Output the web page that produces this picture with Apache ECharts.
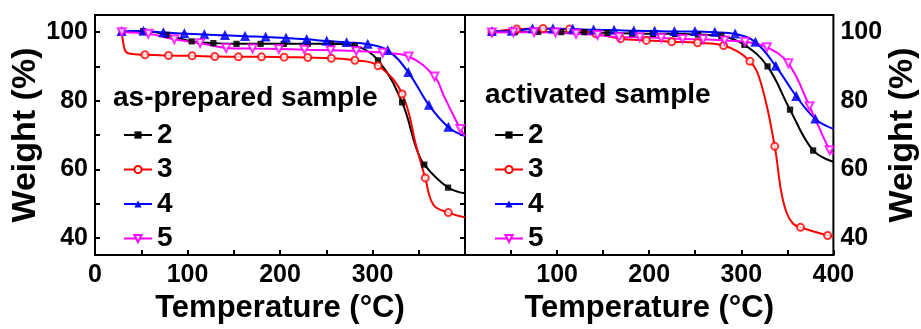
<!DOCTYPE html>
<html>
<head>
<meta charset="utf-8">
<script src="https://cdn.jsdelivr.net/npm/echarts@6/dist/echarts.min.js"></script>
<style>html,body{margin:0;padding:0;background:#fff}#c{width:921px;height:329px}</style>
</head>
<body>
<div id="c"></div>
<script>
// ---------- data ----------
const seriesNames = ['2', '3', '4', '5'];
const xLabelsLeft = [0, 100, 200, 300];
const xLabelsRight = [100, 200, 300, 400];
const xTicks = [0, 50, 100, 150, 200, 250, 300, 350, 400];
const yLabels = [40, 60, 80, 100];
const yTicks = [40, 50, 60, 70, 80, 90, 100];
const panelTitles = ['as-prepared sample', 'activated sample'];

// as-prepared sample: marker points [temperature, weight]
const prep2 = [[29,100],[52,100.3],[77.5,99.2],[104.5,97.3],[128,96.8],[153,96.6],[179,96.6],[204,96.6],[230,96.6],[255,96.6],[281,96.0],[306,91.8],[332,79.5],[356,61.4],[381.7,54.7]];
const prep2Curve = [[347,66.5],[400,53.0]];
const prep3 = [[54,93.4],[79.5,93.2],[105,93.1],[129.5,92.9],[155,92.8],[180,92.8],[204.5,92.7],[230,92.6],[255.5,92.4],[281,91.8],[306,90.2],[332,82.0],[357,57.5],[382,47.4]];
const prep3Curve = [[29,100],[30.5,97],[33,94.4],[38,93.7],[348,66],[366,49.6],[400,46.0]];
const prep4 = [[28.8,100.2],[52.3,100.3],[73.9,99.9],[96.6,99.6],[118.2,99.3],[140.5,99.1],[162.2,98.8],[184.5,98.6],[206.5,98.3],[228.8,97.9],[250.5,97.4],[272,97.0],[294.8,96.5],[316.4,94.7],[338.7,88.3],[361,78.7],[382,72.3]];
const prep4Curve = [[400,69.7]];
const prep5 = [[29,100],[57.7,99.5],[85.8,97.9],[113.6,96.8],[141.8,95.4],[170.3,95.2],[198.8,95.1],[226.5,94.9],[254.7,94.7],[282.5,94.5],[311,94.0],[339,92.9],[367,87.1],[395,71.8]];
const prep5Curve = [[377,81.5],[387,76],[400,69.7]];

// activated sample
const act2 = [[29.2,100],[54.3,100.1],[79.4,100.1],[104.5,100],[129.6,100],[154.7,99.8],[181.5,99.6],[204,99.5],[228,99.5],[253,99.3],[278.3,98.9],[303.4,96.3],[328.5,90.0],[352.9,77.4],[378,65.5]];
const act2Curve = [[400,62.2]];
const act3 = [[29.2,100],[56.1,100.9],[84.7,101.1],[113.4,100.9],[142.1,99.5],[169,98.1],[197,97.6],[224.5,97.2],[252.5,96.9],[280.8,96.1],[309.4,91.5],[336.3,66.7],[364.3,43.1],[393.8,40.7]];
const act3Curve = [[322,84.5],[343,54],[349,47.5],[356,44.2],[400,40.4]];
const act4 = [[29.2,100.2],[50.7,100.3],[73.3,101],[95.5,101],[117,100.9],[139.6,100.7],[161.8,100.6],[183.3,100.4],[205.9,100.3],[227.4,100.2],[249.7,100.2],[271.2,100],[293.3,99.5],[315.3,97.1],[337.4,90.1],[359.7,81.3],[380.4,74.7]];
const act4Curve = [[400,71.8]];
const act5 = [[29.2,99.9],[52.5,100],[75,100],[98.4,99.9],[120.6,99.5],[143.9,99.2],[167.2,98.6],[189.8,98.5],[213.1,98.3],[236.3,98.0],[258.6,97.9],[281.9,97.6],[304.1,97.2],[327.7,95.6],[351.1,90.9],[374,78.4],[395.9,65.6]];
const act5Curve = [[400,64.6]];

// ---------- styling ----------
const FONT = "'Liberation Sans', Arial, sans-serif";
const styles = [
  {color: '#000000', symbol: 'rect', size: 5, rotate: 0},
  {color: '#ff0000', symbol: 'emptyCircle', size: 7, rotate: 0},
  {color: '#0000ff', symbol: 'triangle', size: 8, rotate: 0},
  {color: '#ff00ff', symbol: 'emptyTriangle', size: 8, rotate: 180}
];
const panels = [
  {markers: [prep2, prep3, prep4, prep5], curves: [prep2Curve, prep3Curve, prep4Curve, prep5Curve]},
  {markers: [act2, act3, act4, act5], curves: [act2Curve, act3Curve, act4Curve, act5Curve]}
];

function merged(a, b) { return a.concat(b).sort((p, q) => p[0] - q[0]); }

const series = [];
panels.forEach((pn, pi) => {
  pn.markers.forEach((m, si) => {
    const st = styles[si];
    series.push({
      type: 'line', name: seriesNames[si], xAxisIndex: pi, yAxisIndex: pi,
      data: merged(m, pn.curves[si]), smooth: 0.4, showSymbol: false,
      symbol: st.symbol, symbolSize: st.size, symbolRotate: st.rotate,
      lineStyle: {color: st.color, width: 2}, itemStyle: {color: st.color, borderWidth: 1.5},
      z: 2, animation: false
    });
  });
});
panels.forEach((pn, pi) => {
  pn.markers.forEach((m, si) => {
    const st = styles[si];
    series.push({
      type: 'scatter', name: 'm' + pi + si, xAxisIndex: pi, yAxisIndex: pi,
      data: m, symbol: st.symbol, symbolSize: st.size, symbolRotate: st.rotate,
      itemStyle: {color: st.color, borderColor: st.color, borderWidth: 1.3},
      z: 3, animation: false
    });
  });
});

const axisLabelStyle = {fontFamily: FONT, fontWeight: 'bold', fontSize: 25, color: '#000'};
const xNameStyle = {fontFamily: FONT, fontWeight: 'bold', fontSize: 31, color: '#000'};
const yNameStyle = {fontFamily: FONT, fontWeight: 'bold', fontSize: 34, color: '#000'};

function xAxis(gi, labels) {
  return {
    type: 'value', gridIndex: gi, min: 0, max: 400,
    axisLine: {lineStyle: {color: '#000', width: 2}},
    axisTick: {inside: true, length: 5, lineStyle: {color: '#000', width: 2}, customValues: xTicks},
    axisLabel: Object.assign({margin: 8, customValues: labels}, axisLabelStyle),
    splitLine: {show: false},
    name: 'Temperature (\u00B0C)', nameLocation: 'middle', nameGap: 29, nameTextStyle: xNameStyle
  };
}
function yAxis(gi, pos) {
  return {
    type: 'value', gridIndex: gi, min: 35, max: 105, position: pos,
    axisLine: {show: true, lineStyle: {color: '#000', width: 2}},
    axisTick: {show: true, inside: true, length: 5, lineStyle: {color: '#000', width: 2}, customValues: yTicks},
    axisLabel: Object.assign({margin: 7, customValues: yLabels}, axisLabelStyle),
    splitLine: {show: false},
    name: 'Weight (%)', nameLocation: 'middle', nameRotate: 90, nameGap: 52, nameTextStyle: yNameStyle
  };
}

const legendCommon = {
  orient: 'vertical', top: 116, itemWidth: 28, itemHeight: 9, itemGap: 6.5,
  textStyle: {fontFamily: FONT, fontWeight: 'bold', fontSize: 28, lineHeight: 28, color: '#000'},
  data: seriesNames, selectedMode: false, symbolRotate: 'inherit'
};

const option = {
  backgroundColor: '#fff',
  animation: false,
  title: [
    {text: panelTitles[0], left: 113, top: 84, textStyle: {fontFamily: FONT, fontWeight: 'bold', fontSize: 28, color: '#000'}, padding: 0},
    {text: panelTitles[1], left: 485, top: 81, textStyle: {fontFamily: FONT, fontWeight: 'bold', fontSize: 28, color: '#000'}, padding: 0}
  ],
  legend: [
    Object.assign({left: 118}, legendCommon),
    Object.assign({left: 489}, legendCommon)
  ],
  grid: [
    {left: 95, top: 15, width: 370, height: 242, show: true, borderColor: '#000', borderWidth: 2},
    {left: 465, top: 15, width: 371, height: 242, show: true, borderColor: '#000', borderWidth: 2}
  ],
  xAxis: [xAxis(0, xLabelsLeft), xAxis(1, xLabelsRight)],
  yAxis: [yAxis(0, 'left'), yAxis(1, 'right')],
  series: series
};

const chart = echarts.init(document.getElementById('c'), null, {renderer: 'canvas'});
chart.setOption(option);
</script>
</body>
</html>
